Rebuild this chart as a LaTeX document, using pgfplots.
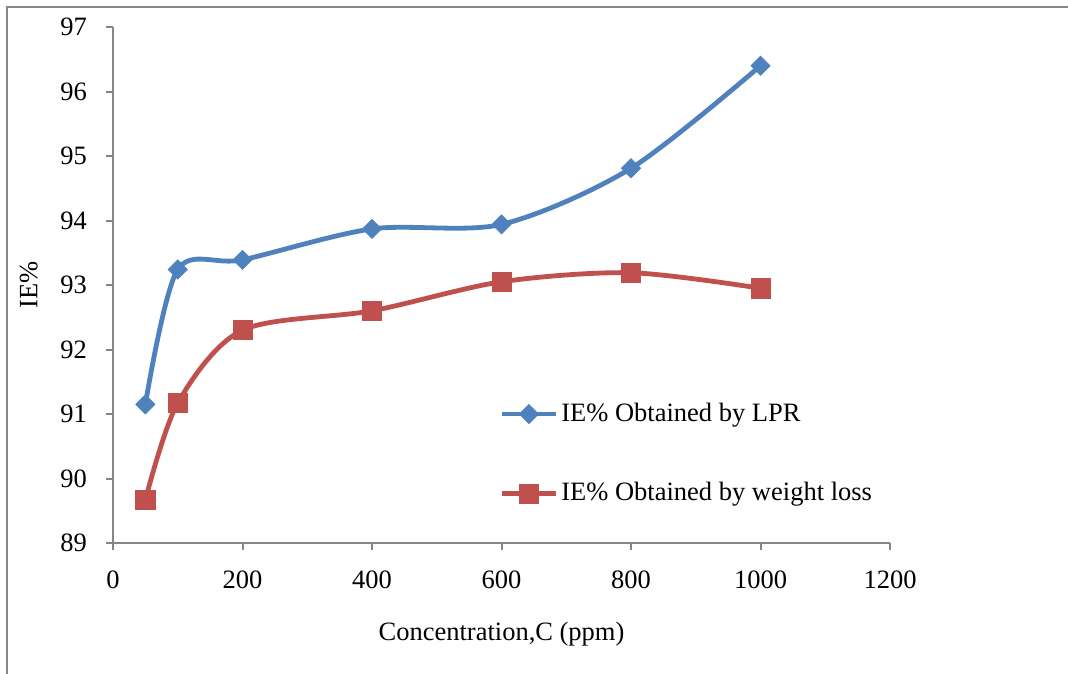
\documentclass[border=0pt]{standalone}
\usepackage{fontspec}
\setmainfont{Liberation Serif}
\usepackage{pgfplots}
\pgfplotsset{compat=1.18}
\definecolor{lprblue}{RGB}{79,129,189}
\definecolor{wlred}{RGB}{192,80,77}
\definecolor{axgray}{RGB}{134,134,134}
\begin{document}
\fontsize{13.3}{16}\selectfont
\begin{tikzpicture}[x=1bp,y=1bp]
\path[use as bounding box] (-56.5,-65) rectangle (477.5,271.5);
\draw[axgray, line width=1bp] (-53,-66) -- (-53,268) -- (478,268);
\begin{axis}[
  at={(0,0)}, anchor=south west,
  scale only axis, width=388.5bp, height=258bp,
  xmin=0, xmax=1200, ymin=89, ymax=97,
  xtick={0,200,...,1200}, ytick={89,90,...,97},
  axis lines=left,
  axis line style={axgray, line width=1bp, -},
  tick style={axgray, line width=1bp},
  tick align=outside,
  major tick length=3.5bp,
  /pgf/number format/assume math mode=true,
  /pgf/number format/1000 sep={},
  ticklabel style={font=\fontsize{13.3}{16}\selectfont, black},
  xticklabel style={yshift=-6bp},
  yticklabel style={xshift=-5bp},
  xlabel={Concentration,C (ppm)},
  ylabel={IE\%},
  xlabel style={font=\fontsize{13.3}{16}\selectfont, at={(axis description cs:0.5,0)}, anchor=north, yshift=-35bp},
  ylabel style={font=\fontsize{13.3}{16}\selectfont, at={(axis description cs:0,0.5)}, anchor=south, yshift=33bp},
  legend style={draw=none, fill=none, at={(0.497,0.173)}, anchor=west, row sep=25.5bp, font=\fontsize{13.3}{16}\selectfont, inner sep=0pt, nodes={inner sep=1.5bp}},
  legend cell align=left,
  legend image code/.code={
    \draw[#1, mark=none] (0bp,0bp) -- (27bp,0bp);
    \draw[#1, only marks] plot coordinates {(13.5bp,0bp)};
  },
  clip=false,
]
\addplot[lprblue, line width=2.4bp, smooth, tension=0.5, mark=square*, mark size=3.4bp, mark options={fill=lprblue, draw=lprblue, line width=0.3bp, rotate=45}]
  coordinates {(50,91.15) (100,93.24) (200,93.39) (400,93.87) (600,93.94) (800,94.81) (1000,96.40)};
\addlegendentry{IE\% Obtained by LPR}
\addplot[wlred, line width=2.4bp, smooth, tension=0.5, mark=square*, mark size=4.8bp, mark options={fill=wlred, draw=wlred, line width=0.3bp}]
  coordinates {(50,89.67) (100,91.17) (200,92.30) (400,92.60) (600,93.05) (800,93.19) (1000,92.95)};
\addlegendentry{IE\% Obtained by weight loss}
\end{axis}
\end{tikzpicture}
\end{document}
